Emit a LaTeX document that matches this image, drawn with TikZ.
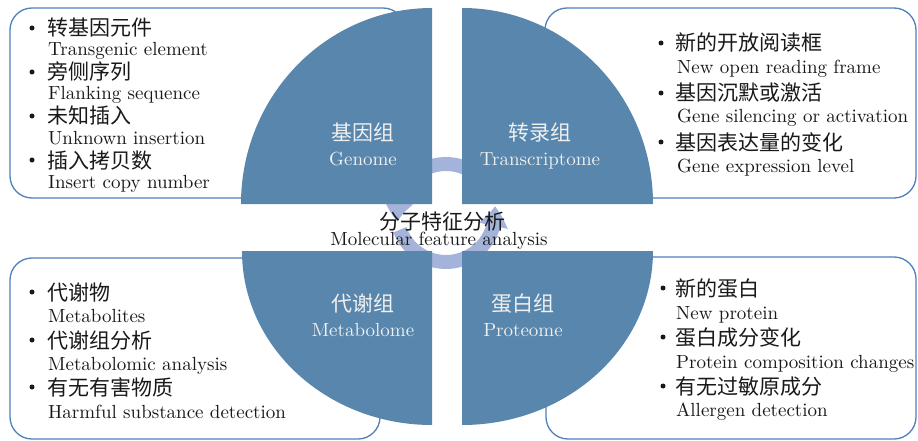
\documentclass[tikz,border=0pt]{standalone}
\usepackage{fontspec}
\setmainfont{lmroman10-regular}[Extension=.otf]
\newfontfamily\cjk{Noto Sans CJK SC}
\usetikzlibrary{arrows.meta,bending}
\definecolor{quad}{RGB}{88,134,173}
\definecolor{ringc}{RGB}{163,179,217}
\definecolor{boxline}{RGB}{79,129,189}
\definecolor{ink}{RGB}{25,25,25}
\tikzset{
  infobox/.style={draw=boxline, line width=1.3pt, fill=white, rounded corners=22pt, inner sep=0pt},
  quadrant/.style={fill=quad},
  ringarc/.style={draw=ringc, line width=14pt, -{Triangle[length=20pt,width=28pt,bend]}},
  cn/.style={anchor=base west, inner sep=0pt, font=\cjk\fontsize{21}{21}\selectfont, text=ink},
  en/.style={anchor=base west, inner sep=0pt, font=\fontsize{19}{19}\selectfont, text=ink},
  bul/.style={circle, fill=ink, inner sep=0pt, minimum size=5pt},
  qcn/.style={anchor=base, inner sep=0pt, font=\cjk\fontsize{21}{21}\selectfont, text=white!94!black},
  qen/.style={anchor=base, inner sep=0pt, font=\fontsize{19}{19}\selectfont, text=white!94!black},
  ccn/.style={anchor=base, inner sep=0pt, font=\cjk\fontsize{21}{21}\selectfont, text=ink},
  cen/.style={anchor=base, inner sep=0pt, font=\fontsize{19}{19}\selectfont, text=ink},
}
\begin{document}
\begin{tikzpicture}[x=1pt,y=1pt]
\useasboundingbox[fill=white] (0,0) rectangle (918,-441);

% information boxes
\node[infobox, minimum width=395pt, minimum height=190pt] (tlbox) at (207.5,-103) {};
\node[infobox, minimum width=371pt, minimum height=190pt] (trbox) at (730.5,-103) {};
\node[infobox, minimum width=370pt, minimum height=181pt] (blbox) at (195,-348.5) {};
\node[infobox, minimum width=370pt, minimum height=182pt] (brbox) at (731,-348) {};

% central cycle ring
\coordinate (rc) at (446,-213);
\draw[ringarc] (rc) ++(20:49) arc[start angle=20, end angle=190, radius=49];
\draw[ringarc] (rc) ++(200:49) arc[start angle=200, end angle=368, radius=49];

% quadrants
\fill[quadrant] (432,-204) -- (432,-8) arc[start angle=90, end angle=180, x radius=191, y radius=196] -- cycle;
\fill[quadrant] (462,-204) -- (462,-8) arc[start angle=90, end angle=0, x radius=191, y radius=196] -- cycle;
\fill[quadrant] (432,-251) -- (242,-251) arc[start angle=180, end angle=270, x radius=190, y radius=174] -- cycle;
\fill[quadrant] (462,-251) -- (653,-251) arc[start angle=0, end angle=-90, x radius=191, y radius=174] -- cycle;

% quadrant labels
\node[qcn] (gcn) at (363,-141) {基因组};
\node[qen] (gen) at (363,-165) {Genome};
\node[qcn] (tcn) at (540,-140) {转录组};
\node[qen] (ten) at (540,-165) {Transcriptome};
\node[qcn] (mcn) at (363,-311) {代谢组};
\node[qen] (men) at (363,-336) {Metabolome};
\node[qcn] (pcn) at (523,-311) {蛋白组};
\node[qen] (pen) at (523,-336) {Proteome};

% centre label
\node[ccn] (ccn) at (442,-229) {分子特征分析};
\node[cen] (cen) at (439,-245) {Molecular feature analysis};

% top-left list
\node[bul] (tlb1) at (32,-28) {};
\node[cn] (tlc1) at (47,-36) {转基因元件};
\node[en] (tle1) at (48,-56) {Transgenic element};
\node[bul] (tlb2) at (32,-72) {};
\node[cn] (tlc2) at (47,-80) {旁侧序列};
\node[en] (tle2) at (48,-100) {Flanking sequence};
\node[bul] (tlb3) at (32,-116) {};
\node[cn] (tlc3) at (47,-124) {未知插入};
\node[en] (tle3) at (48,-144) {Unknown insertion};
\node[bul] (tlb4) at (32,-160) {};
\node[cn] (tlc4) at (47,-168) {插入拷贝数};
\node[en] (tle4) at (48,-188) {Insert copy number};

% top-right list
\node[bul] (trb1) at (661,-43) {};
\node[cn] (trc1) at (675,-51) {新的开放阅读框};
\node[en] (tre1) at (677,-74) {New open reading frame};
\node[bul] (trb2) at (661,-93) {};
\node[cn] (trc2) at (675,-101) {基因沉默或激活};
\node[en] (tre2) at (677,-123) {Gene silencing or activation};
\node[bul] (trb3) at (661,-142) {};
\node[cn] (trc3) at (675,-150) {基因表达量的变化};
\node[en] (tre3) at (677,-172) {Gene expression level};

% bottom-left list
\node[bul] (blb1) at (32,-292) {};
\node[cn] (blc1) at (47,-300) {代谢物};
\node[en] (ble1) at (48,-322) {Metabolites};
\node[bul] (blb2) at (32,-340) {};
\node[cn] (blc2) at (47,-348) {代谢组分析};
\node[en] (ble2) at (48,-370) {Metabolomic analysis};
\node[bul] (blb3) at (32,-387) {};
\node[cn] (blc3) at (47,-395) {有无有害物质};
\node[en] (ble3) at (48,-418) {Harmful substance detection};

% bottom-right list
\node[bul] (brb1) at (663,-288) {};
\node[cn] (brc1) at (675,-296) {新的蛋白};
\node[en] (bre1) at (676,-319) {New protein};
\node[bul] (brb2) at (663,-337) {};
\node[cn] (brc2) at (675,-345) {蛋白成分变化};
\node[en] (bre2) at (676,-368) {Protein composition changes};
\node[bul] (brb3) at (663,-386) {};
\node[cn] (brc3) at (675,-394) {有无过敏原成分};
\node[en] (bre3) at (676,-416) {Allergen detection};
\end{tikzpicture}
\end{document}
